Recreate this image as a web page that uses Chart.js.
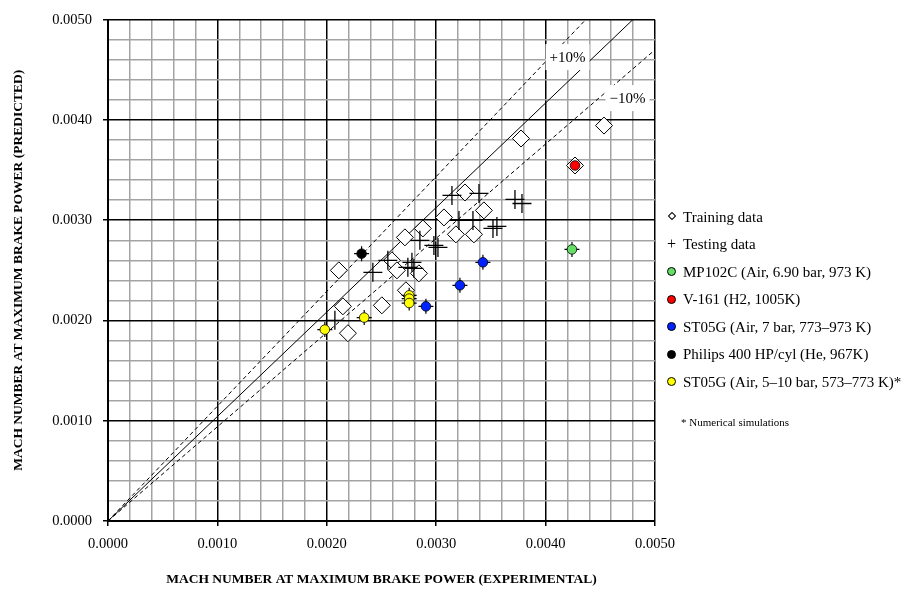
<!DOCTYPE html>
<html>
<head>
<meta charset="utf-8">
<script src="https://cdn.jsdelivr.net/npm/chart.js@4.4.1/dist/chart.umd.min.js"></script>
<style>
  html, body { margin: 0; padding: 0; background: #fff; }
  #wrap { position: relative; width: 902px; height: 589px; overflow: hidden; }
  #chart { position: absolute; left: 0; top: 0; }
  .key { position: absolute; left: 664px; top: 0; font-family: "Liberation Serif", "Times New Roman", serif; font-size: 15px; color: #000; }
  .row { position: absolute; left: 0; height: 20px; line-height: 20px; white-space: nowrap; }
  .row .txt { position: absolute; left: 19px; top: 0; }
  .mk { position: absolute; box-sizing: border-box; }
  .dot { left: 3px; top: 5.5px; width: 9px; height: 9px; border-radius: 50%; border: 1px solid #000; }
  .dia { left: 4.5px; top: 6.5px; width: 6px; height: 6px; border: 1px solid #000; transform: rotate(45deg); background: #fff; }
  .plus { left: 3px; top: 0; font-size: 16px; line-height: 20px; }
  .note { position: absolute; left: 681px; font-family: "Liberation Serif", "Times New Roman", serif; font-size: 11px; line-height: 14px; white-space: nowrap; }
</style>
</head>
<body>
<div id="wrap">
  <canvas id="chart" width="902" height="589"></canvas>
  <div class="key" id="key"></div>
  <div class="note" style="top:415px">* Numerical simulations</div>
</div>
<script>
// Mach number at maximum brake power: [experimental, predicted]
const trainingData = [
  [0.004534, 0.003944], [0.004269, 0.003546], [0.003775, 0.003815],
  [0.003263, 0.003277], [0.003436, 0.003098], [0.003071, 0.003028],
  [0.002878, 0.002918], [0.002714, 0.002829], [0.003180, 0.002859],
  [0.003345, 0.002859], [0.002595, 0.002600], [0.002641, 0.002500],
  [0.002842, 0.002470], [0.002110, 0.002500], [0.002723, 0.002301],
  [0.002503, 0.002151], [0.002147, 0.002141], [0.002193, 0.001873]
];
const testingData = [
  [0.003144, 0.003247], [0.003391, 0.003267], [0.003720, 0.003207],
  [0.003784, 0.003167], [0.003208, 0.002998], [0.003336, 0.002998],
  [0.003519, 0.002918], [0.003555, 0.002938], [0.002851, 0.002799],
  [0.002979, 0.002749], [0.003016, 0.002729], [0.002421, 0.002480],
  [0.002558, 0.002600], [0.002741, 0.002530], [0.002778, 0.002580],
  [0.002796, 0.002520], [0.002074, 0.002002]
];
const mp102cData = [[0.004241, 0.002709]];
const v161Data = [[0.004269, 0.003546]];
const st05gData = [[0.003427, 0.002580], [0.003217, 0.002351], [0.002906, 0.002141]];
const philipsData = [[0.002318, 0.002666]];
const st05gSimData = [
  [0.001982, 0.001909], [0.002342, 0.002029],
  [0.002753, 0.002251], [0.002753, 0.002218], [0.002753, 0.002174]
];
// reference line and ±10 % band
const parityLine = [[0, 0], [0.004797, 0.005]];
const plusTenLine = [[0, 0], [0.004366, 0.005]];
const minusTenLine = [[0, 0], [0.005, 0.00470]];
const axisTickValues = ['0.0000', '0.0010', '0.0020', '0.0030', '0.0040', '0.0050'];

const pts = arr => arr.map(([x, y]) => ({ x, y }));

const seriesKey = [
  { name: 'Training data', kind: 'dia' },
  { name: 'Testing data', kind: 'plus' },
  { name: 'MP102C (Air, 6.90 bar, 973 K)', color: '#66dd66' },
  { name: 'V-161 (H2, 1005K)', color: '#ff0000' },
  { name: 'ST05G (Air, 7 bar, 773\u2013973 K)', color: '#0022ff' },
  { name: 'Philips 400 HP/cyl (He, 967K)', color: '#000000' },
  { name: 'ST05G (Air, 5\u201310 bar, 573\u2013773 K)*', color: '#ffff00' }
];

// legend rows
const key = document.getElementById('key');
seriesKey.forEach((s, i) => {
  const row = document.createElement('div');
  row.className = 'row';
  row.style.top = (206.5 + i * 27.5) + 'px';
  const mk = document.createElement('span');
  if (s.kind === 'dia') { mk.className = 'mk dia'; }
  else if (s.kind === 'plus') { mk.className = 'mk plus'; mk.textContent = '+'; }
  else { mk.className = 'mk dot'; mk.style.background = s.color; }
  const t = document.createElement('span');
  t.className = 'txt';
  t.textContent = s.name;
  row.appendChild(mk); row.appendChild(t);
  key.appendChild(row);
});

const isMajor = v => Math.abs(v * 1000 - Math.round(v * 1000)) < 1e-6;
const tickFont = { family: '"Liberation Serif", "Times New Roman", serif', size: 14.5 };
const titleFont = { family: '"Liberation Serif", "Times New Roman", serif', size: 13.5, weight: 'bold' };

// white-boxed band tags
const bandTags = {
  id: 'bandTags',
  afterDatasetsDraw(chart) {
    const { ctx, scales: { x, y } } = chart;
    const tags = [
      { text: '+10%', x: 0.00420, y: 0.004627 },
      { text: '\u221210%', x: 0.004749, y: 0.004218 }
    ];
    ctx.save();
    ctx.font = '15px "Liberation Serif", "Times New Roman", serif';
    ctx.textAlign = 'center';
    ctx.textBaseline = 'middle';
    tags.forEach(t => {
      const px = x.getPixelForValue(t.x), py = y.getPixelForValue(t.y);
      ctx.fillStyle = '#fff';
      ctx.fillRect(px - 22, py - 13, 44, 26);
      ctx.fillStyle = '#000';
      ctx.fillText(t.text, px, py + 1);
    });
    ctx.restore();
  }
};

const lineSet = (data, dash) => ({
  data: pts(data), showLine: true, pointRadius: 0, borderColor: '#000',
  borderWidth: 1, borderDash: dash, order: 5
});
const dotSet = (data, color) => ({
  data: pts(data), pointStyle: 'circle', pointRadius: 4.8, backgroundColor: color,
  borderColor: '#000', borderWidth: 0.8, order: 0
});

new Chart(document.getElementById('chart'), {
  type: 'scatter',
  data: {
    datasets: [
      dotSet(mp102cData, '#66dd66'),
      dotSet(v161Data, '#ff0000'),
      dotSet(st05gData, '#0022ff'),
      dotSet(philipsData, '#000000'),
      dotSet(st05gSimData, '#ffff00'),
      {
        data: pts([...mp102cData, ...st05gData, ...philipsData, ...st05gSimData]),
        pointStyle: 'cross', pointRadius: 7.5, borderColor: '#000', borderWidth: 1.2, order: 1
      },
      {
        data: pts(testingData), pointStyle: 'cross', pointRadius: 9.5,
        borderColor: '#000', borderWidth: 1.3, order: 2
      },
      {
        data: pts(trainingData), pointStyle: 'rectRot', pointRadius: 8.5,
        backgroundColor: '#fff', borderColor: '#000', borderWidth: 1, order: 3
      },
      lineSet(parityLine, []),
      lineSet(plusTenLine, [4, 3]),
      lineSet(minusTenLine, [4, 3])
    ]
  },
  options: {
    responsive: false,
    animation: false,
    events: [],
    layout: { padding: { top: 19, right: 247, bottom: 0, left: 0 } },
    plugins: { legend: { display: false }, tooltip: { enabled: false } },
    scales: {
      x: {
        type: 'linear', min: 0, max: 0.005,
        ticks: {
          stepSize: 0.0002, autoSkip: false, maxRotation: 0, padding: 9.6,
          color: '#000', font: tickFont,
          callback: v => isMajor(v) ? axisTickValues[Math.round(v * 1000)] : ''
        },
        grid: {
          lineWidth: 1.5, tickLength: 5,
          color: c => isMajor(c.tick.value) ? '#000' : '#a3a3a3',
          tickColor: c => isMajor(c.tick.value) ? '#000' : 'rgba(0,0,0,0)'
        },
        border: { color: '#000', width: 2 },
        title: {
          display: true, text: 'MACH NUMBER AT MAXIMUM BRAKE POWER (EXPERIMENTAL)',
          color: '#000', font: titleFont, padding: { top: 0, bottom: 1.8 }
        },
        afterFit: s => { s.height = 68; }
      },
      y: {
        type: 'linear', min: 0, max: 0.005,
        ticks: {
          stepSize: 0.0002, autoSkip: false, padding: 11,
          color: '#000', font: tickFont,
          callback: v => isMajor(v) ? axisTickValues[Math.round(v * 1000)] : ''
        },
        grid: {
          lineWidth: 1.5, tickLength: 5,
          color: c => isMajor(c.tick.value) ? '#000' : '#a3a3a3',
          tickColor: c => isMajor(c.tick.value) ? '#000' : 'rgba(0,0,0,0)'
        },
        border: { color: '#000', width: 2 },
        title: {
          display: true, text: 'MACH NUMBER AT MAXIMUM BRAKE POWER (PREDICTED)',
          color: '#000', font: titleFont, padding: { top: 10, bottom: 0 }
        },
        afterFit: s => { s.width = 108; }
      }
    }
  },
  plugins: [bandTags]
});
</script>
</body>
</html>
